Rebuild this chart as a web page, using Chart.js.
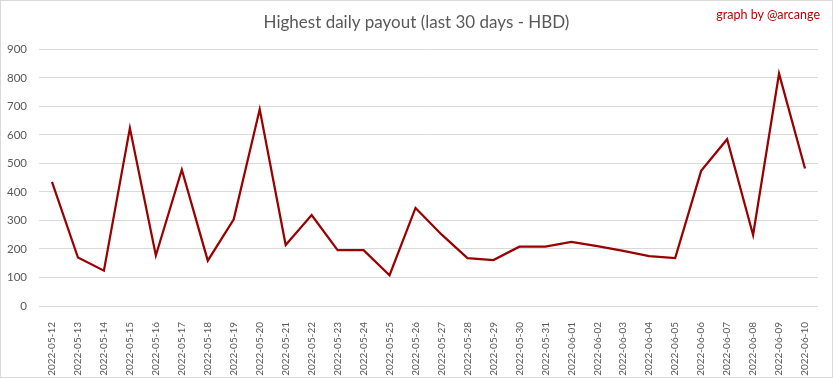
<!DOCTYPE html>
<html>
<head>
<meta charset="utf-8">
<script src="https://cdn.jsdelivr.net/npm/chart.js@4.4.0/dist/chart.umd.min.js"></script>
<style>
  body { margin: 0; background: #fff; }
  #wrap { width: 831px; height: 376px; border: 1px solid #d9d9d9; position: relative; }
  #credit {
    position: absolute; right: 12px; top: 6px;
    font: 12.5px Lato, "Liberation Sans", sans-serif; color: #c00000;
  }
</style>
</head>
<body>
<div id="wrap">
  <canvas id="payoutChart" width="831" height="376"></canvas>
  <div id="credit">graph by @arcange</div>
</div>
<script>
// ========================== DATA ==============================
const days = [
  '2022-05-12', '2022-05-13', '2022-05-14', '2022-05-15', '2022-05-16',
  '2022-05-17', '2022-05-18', '2022-05-19', '2022-05-20', '2022-05-21',
  '2022-05-22', '2022-05-23', '2022-05-24', '2022-05-25', '2022-05-26',
  '2022-05-27', '2022-05-28', '2022-05-29', '2022-05-30', '2022-05-31',
  '2022-06-01', '2022-06-02', '2022-06-03', '2022-06-04', '2022-06-05',
  '2022-06-06', '2022-06-07', '2022-06-08', '2022-06-09', '2022-06-10'
];
const payouts = [
  435, 170, 124, 624, 177, 478, 159, 304, 690, 214,
  319, 196, 196, 108, 344, 251, 168, 161, 208, 208,
  225, 210, 193, 175, 168, 474, 585, 249, 815, 482
];
const yMax = 900;
const yStep = 100;

const FONT = 'Lato, "Liberation Sans", sans-serif';

// ========================== CHART =============================
new Chart(document.getElementById('payoutChart'), {
  type: 'line',
  data: {
    labels: days,
    datasets: [{
      label: 'Highest daily payout',
      data: payouts,
      borderColor: '#990000',
      borderWidth: 2.25,
      pointRadius: 0,
      fill: false,
      tension: 0
    }]
  },
  options: {
    responsive: false,
    animation: false,
    layout: { padding: 0 },
    plugins: {
      legend: { display: false },
      tooltip: { enabled: false },
      title: {
        display: true,
        text: 'Highest daily payout (last 30 days - HBD)',
        color: '#595959',
        font: { family: FONT, size: 17, weight: 'normal' },
        padding: { top: 11, bottom: 17 }
      }
    },
    scales: {
      x: {
        offset: true,
        // fixed label band + right gap, title still centred on the full width
        afterFit: (scale) => {
          scale.height = 71;
          scale.paddingLeft = 0;
          scale.paddingRight = 14;
        },
        grid: { display: false },
        border: { display: false },
        ticks: {
          color: '#595959',
          font: { family: FONT, size: 10 },
          maxRotation: 90,
          minRotation: 90,
          autoSkip: false,
          padding: 8
        }
      },
      y: {
        min: 0,
        max: yMax,
        afterFit: (scale) => { scale.width = 38; },
        grid: { color: '#d9d9d9', drawTicks: false },
        border: { display: false },
        ticks: {
          stepSize: yStep,
          color: '#595959',
          font: { family: FONT, size: 11.5 },
          padding: 12
        }
      }
    }
  }
});
</script>
</body>
</html>
